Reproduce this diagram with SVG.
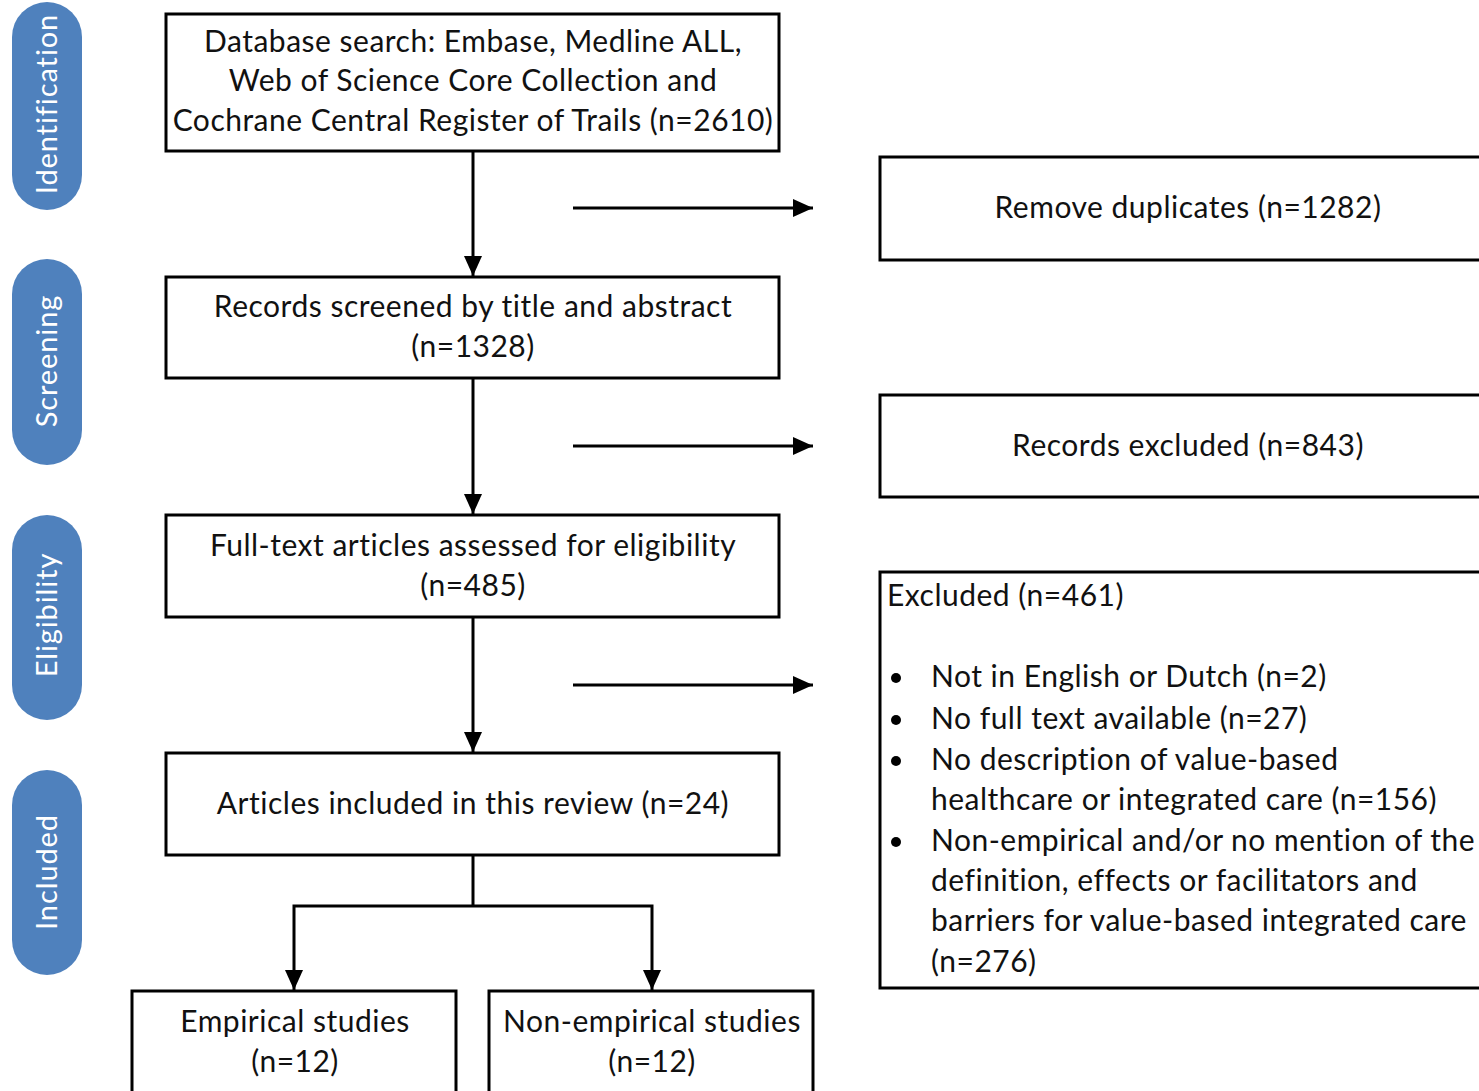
<svg xmlns="http://www.w3.org/2000/svg" width="1479" height="1091" viewBox="0 0 1479 1091">
<defs>
<style>
.box{fill:#fff;stroke:#000;stroke-width:3}
.pill{fill:#4F81BD}
.t{font-family:Lato,"Open Sans",sans-serif;font-size:30px;letter-spacing:0.5px;fill:#111}
.c{text-anchor:middle}
.pt{font-family:Lato,"Open Sans",sans-serif;font-size:29px;letter-spacing:0.9px;fill:#fff;text-anchor:middle}
.ln{stroke:#000;stroke-width:3;fill:none}
</style>
<marker id="a" markerWidth="20" markerHeight="18" refX="20" refY="9" orient="auto" markerUnits="userSpaceOnUse" viewBox="0 0 20 18">
<path d="M0,0 L20,9 L0,18 Z" fill="#000"/>
</marker>
</defs>
<rect width="1479" height="1091" fill="#fff"/>
<g id="stage-identification">
<rect class="pill" x="12" y="2" width="70" height="208" rx="35"/>
<text class="pt" transform="translate(57,104) rotate(-90)">Identification</text>
</g>
<g id="stage-screening">
<rect class="pill" x="12" y="259" width="70" height="206" rx="35"/>
<text class="pt" transform="translate(57,361) rotate(-90)">Screening</text>
</g>
<g id="stage-eligibility">
<rect class="pill" x="12" y="515" width="70" height="205" rx="35"/>
<text class="pt" transform="translate(57,615) rotate(-90)">Eligibility</text>
</g>
<g id="stage-included">
<rect class="pill" x="12" y="770" width="70" height="205" rx="35"/>
<text class="pt" transform="translate(57,872) rotate(-90)">Included</text>
</g>
<g id="n-database">
<rect class="box" x="166" y="14" width="613" height="137"/>
<text class="t c" x="473" y="52">Database search: Embase, Medline ALL,</text>
<text class="t c" x="473" y="91">Web of Science Core Collection and</text>
<text class="t c" x="473" y="131">Cochrane Central Register of Trails (n=2610)</text>
</g>
<g id="n-screened">
<rect class="box" x="166" y="277" width="613" height="101"/>
<text class="t c" x="473" y="317">Records screened by title and abstract</text>
<text class="t c" x="473" y="357">(n=1328)</text>
</g>
<g id="n-fulltext">
<rect class="box" x="166" y="515" width="613" height="102"/>
<text class="t c" x="473" y="556">Full-text articles assessed for eligibility</text>
<text class="t c" x="473" y="596">(n=485)</text>
</g>
<g id="n-included">
<rect class="box" x="166" y="753" width="613" height="102"/>
<text class="t c" x="473" y="814">Articles included in this review (n=24)</text>
</g>
<g id="n-empirical">
<rect class="box" x="132" y="991" width="324" height="110"/>
<text class="t c" x="295" y="1032">Empirical studies</text>
<text class="t c" x="295" y="1072">(n=12)</text>
</g>
<g id="n-nonempirical">
<rect class="box" x="489" y="991" width="324" height="110"/>
<text class="t c" x="652" y="1032">Non-empirical studies</text>
<text class="t c" x="652" y="1072">(n=12)</text>
</g>
<g id="n-duplicates">
<rect class="box" x="880" y="157" width="610" height="103"/>
<text class="t c" x="1188" y="218">Remove duplicates (n=1282)</text>
</g>
<g id="n-recexcluded">
<rect class="box" x="880" y="395" width="610" height="102"/>
<text class="t c" x="1188" y="456">Records excluded (n=843)</text>
</g>
<g id="n-excluded">
<rect class="box" x="880" y="572" width="610" height="416"/>
<text class="t" x="887" y="606">Excluded (n=461)</text>
<g fill="#000">
<circle cx="896" cy="678" r="5"/>
<circle cx="896" cy="720" r="5"/>
<circle cx="896" cy="761" r="5"/>
<circle cx="896" cy="842" r="5"/>
</g>
<text class="t" x="931" y="687">Not in English or Dutch (n=2)</text>
<text class="t" x="931" y="729">No full text available (n=27)</text>
<text class="t" x="931" y="770">No description of value-based</text>
<text class="t" x="931" y="810">healthcare or integrated care (n=156)</text>
<text class="t" x="931" y="851">Non-empirical and/or no mention of the</text>
<text class="t" x="931" y="891">definition, effects or facilitators and</text>
<text class="t" x="931" y="931">barriers for value-based integrated care</text>
<text class="t" x="931" y="972">(n=276)</text>
</g>
<g id="connectors">
<line class="ln" x1="473" y1="151" x2="473" y2="276" marker-end="url(#a)"/>
<line class="ln" x1="473" y1="378" x2="473" y2="514" marker-end="url(#a)"/>
<line class="ln" x1="473" y1="617" x2="473" y2="752" marker-end="url(#a)"/>
<line class="ln" x1="573" y1="208" x2="813" y2="208" marker-end="url(#a)"/>
<line class="ln" x1="573" y1="446" x2="813" y2="446" marker-end="url(#a)"/>
<line class="ln" x1="573" y1="685" x2="813" y2="685" marker-end="url(#a)"/>
<polyline class="ln" points="473,855 473,906"/>
<polyline class="ln" points="473,906 294,906 294,990" marker-end="url(#a)"/>
<polyline class="ln" points="473,906 652,906 652,990" marker-end="url(#a)"/>
</g>
</svg>
